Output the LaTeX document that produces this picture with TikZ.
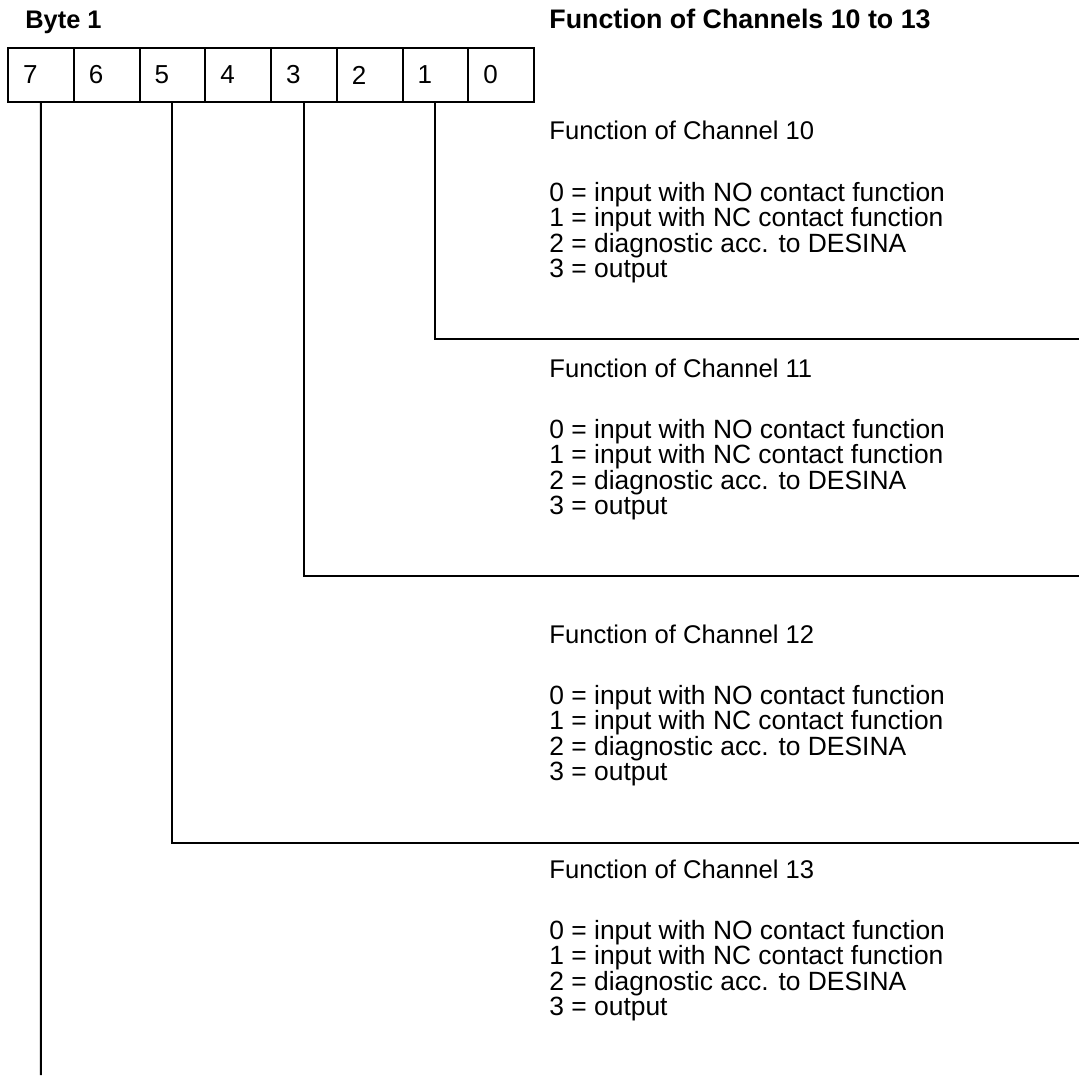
\documentclass[tikz,border=0pt]{standalone}
\usepackage{fontspec}
\setmainfont{Liberation Sans}

\tikzset{
  bitcell/.style={draw, line width=1pt, minimum width=32.875pt, minimum height=27pt,
    inner xsep=7.5pt, text width=17.875pt, align=left, font=\fontsize{13}{13}\selectfont},
  boldhead/.style={anchor=base west, inner sep=0pt, font=\fontsize{13.4}{13.4}\selectfont\bfseries},
  chanhead/.style={anchor=base west, inner sep=0pt, font=\fontsize{12.8}{12.8}\selectfont},
  chanitem/.style={anchor=base west, inner sep=0pt, font=\fontsize{13.2}{13.2}\selectfont},
  bitline/.style={line width=1pt}
}

\begin{document}
\begin{tikzpicture}[x=0.5pt, y=-0.5pt]
\useasboundingbox (0,0) rectangle (1079,1075);
\node[boldhead, font=\fontsize{12.7}{12.7}\selectfont\bfseries] (byte) at (25,29) {Byte 1};
\node[boldhead] (title) at (549,29) {Function of Channels 10 to 13};
% the eight bits of the byte
\foreach \b [count=\i from 0] in {7,6,5,4,3,2,1,0}
  \node[bitcell] (b\b) at ({8+65.75*(\i+0.5)},75) {\b};
% free ends of the connectors
\coordinate (e1) at (1079,339);
\coordinate (e3) at (1079,576);
\coordinate (e5) at (1079,843);
\coordinate (e7) at (40.9,1075);
\draw[bitline] (b1.south) |- (e1);
\draw[bitline] (b3.south) |- (e3);
\draw[bitline] (b5.south) |- (e5);
\draw[bitline] (b7.south) -- (e7);
% channel texts
\foreach \c/\y in {10/140, 11/377, 12/643, 13/878} {
  \node[chanhead] (h\c) at (549,\y) {Function of Channel \c};
  \foreach \t [count=\k from 0] in {input with NO contact function,
      input with NC contact function, diagnostic acc. to DESINA, output}
    \node[chanitem] (l\c-\k) at (549,{\y+61+25.5*\k}) {\k\ = \t};
}
\end{tikzpicture}
\end{document}
